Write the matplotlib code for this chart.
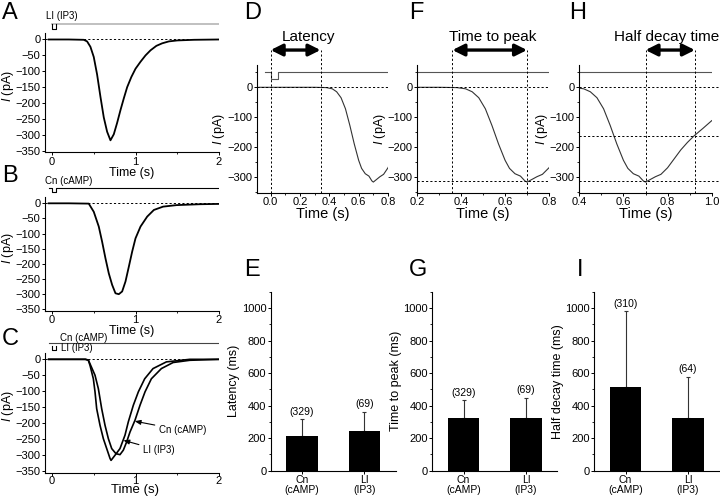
import matplotlib
matplotlib.use("Agg")
import matplotlib.pyplot as plt
from matplotlib.ticker import MultipleLocator

plt.rcParams['font.family'] = ['Liberation Sans', 'DejaVu Sans']
plt.rcParams['mathtext.fontset'] = 'custom'
plt.rcParams['mathtext.rm'] = 'Liberation Sans'
plt.rcParams['mathtext.it'] = 'Liberation Sans:italic'
plt.rcParams['axes.linewidth'] = 0.8

# ---- data ----
# A: LI (IP3) response
a_t = [-0.04, 0.2, 0.38, 0.42, 0.46, 0.50, 0.54, 0.58, 0.62, 0.66, 0.70, 0.74, 0.78, 0.82,
       0.86, 0.90, 0.95, 1.0, 1.06, 1.12, 1.18, 1.25, 1.32, 1.4, 1.5, 1.7, 2.0]
a_i = [0, 0, -1, -6, -23, -55, -110, -180, -245, -290, -317, -298, -262, -222,
       -185, -150, -118, -92, -70, -50, -34, -20, -12, -6, -3, -1, 0]
# B: Cn (cAMP) response
b_t = [-0.04, 0.2, 0.44, 0.50, 0.56, 0.60, 0.64, 0.68, 0.72, 0.76, 0.80, 0.84, 0.88, 0.92,
       0.96, 1.0, 1.06, 1.14, 1.22, 1.33, 1.49, 1.77, 2.0]
b_i = [0, 0, -1, -28, -77, -127, -182, -232, -270, -298, -301, -292, -259, -210,
       -160, -116, -77, -44, -22, -11, -6, -3, -2]
# C: both responses overlaid
c_li_t = [-0.04, 0.2, 0.40, 0.435, 0.455, 0.495, 0.515, 0.535, 0.575, 0.615, 0.655, 0.695,
          0.707, 0.754, 0.814, 0.874, 0.914, 0.974, 1.034, 1.11, 1.21, 1.37, 1.65, 2.0]
c_li_i = [0, 0, 0, -3, -19, -61, -102, -155, -207, -249, -280, -311,
          -317, -301, -280, -238, -196, -144, -102, -61, -29, -8, 0, 0]
c_cn_t = [-0.04, 0.2, 0.40, 0.435, 0.455, 0.515, 0.555, 0.595, 0.635, 0.675, 0.715, 0.766,
          0.814, 0.854, 0.894, 0.934, 0.994, 1.054, 1.114, 1.19, 1.31, 1.45, 1.65, 2.0]
c_cn_i = [0, 0, 0, -2, -14, -50, -92, -155, -207, -249, -280, -296,
          -299, -285, -259, -228, -191, -144, -102, -61, -29, -10, -3, 0]
# D, F, H: example trace used for the measurements
ex_t = [-0.08, 0.0, 0.1, 0.2, 0.3, 0.38, 0.42, 0.45, 0.48, 0.51, 0.54, 0.57, 0.60, 0.62,
        0.645, 0.67, 0.69, 0.70, 0.72, 0.745, 0.77, 0.80, 0.83, 0.86, 0.89, 0.92, 0.96, 1.0]
ex_i = [0, 0, 0, 0, 0, -1, -5, -15, -35, -72, -128, -190, -245, -272,
        -290, -298, -314, -318, -310, -300, -292, -270, -240, -210, -185, -163, -138, -112]
# stimulus timing (s); levels drawn above the traces
stim_t = [-0.04, 0.0, 0.0, 0.05, 0.05, 2.0]
latency_marks = [0.0, 0.34]
peak_marks = [0.36, 0.70]
decay_marks = [0.70, 0.924]
decay_levels = [0, -163, -316]
peak_level = -316

# E, G, I: summary bars
groups = ['Cn\n(cAMP)', 'LI\n(IP3)']
latency_mean = [216, 245]
latency_sd = [100, 117]
latency_n = [329, 69]
peak_mean = [322, 322]
peak_sd = [111, 124]
peak_n = [329, 69]
decay_mean = [513, 322]
decay_sd = [466, 253]
decay_n = [310, 64]

W, H = 720, 497
fig = plt.figure(figsize=(W / 100, H / 100), dpi=100)
DASH = (0, (2.2, 2.2))
ILAB = r'$\mathit{I}$ (pA)'


def px_axes(l, t, r, b):
    return fig.add_axes([l / W, 1 - b / H, (r - l) / W, (b - t) / H])


def style(ax, fs=8):
    ax.spines['top'].set_visible(False)
    ax.spines['right'].set_visible(False)
    ax.tick_params(direction='out', length=2.2, width=0.7, labelsize=fs, pad=1)
    ax.tick_params(which='minor', direction='out', length=1.5, width=0.6)


def stim(base, low):
    return [base, base, low, low, base, base]


def trace_axes(ax, ylo, xfs):
    style(ax)
    ax.set_xlim(-0.084, 2.0)
    ax.set_ylim(ylo, 60)
    ax.spines['left'].set_bounds(ylo, 20)
    ax.set_xticks([0, 1, 2])
    ax.xaxis.set_minor_locator(MultipleLocator(0.5))
    ax.set_yticks(range(-350, 1, 50))
    ax.axhline(0, color='black', lw=0.7, ls=DASH, zorder=1)
    ax.set_xlabel('Time (s)', fontsize=xfs, labelpad=0)
    ax.set_ylabel(ILAB, fontsize=9, labelpad=0)


# ---- A ----
ax = px_axes(45, 20.4, 219, 152.4)
trace_axes(ax, -355, 9)
ax.plot(stim_t[1:], stim(49, 49)[1:], color='#b5b5b5', lw=1.2)
ax.plot(stim_t[1:5], stim(49, 32)[1:5], color='black', lw=0.8)
ax.plot(a_t, a_i, color='black', lw=1.3)
ax.text(-0.07, 74, 'LI (IP3)', fontsize=7, va='center')

# ---- B ----
ax = px_axes(45, 185.2, 219, 310.8)
trace_axes(ax, -356, 9)
ax.plot(stim_t, stim(50, 36), color='black', lw=0.8)
ax.plot(b_t, b_i, color='black', lw=1.3)
ax.text(-0.08, 74, 'Cn (cAMP)', fontsize=7, va='center')

# ---- C ----
c_bottom = 472.5
ax = px_axes(45, c_bottom - 132.3, 219, c_bottom)
trace_axes(ax, -355, 9.5)
ax.tick_params(axis='x', pad=0.5)
ax.xaxis.label.set_va('bottom')
ax.xaxis.set_label_coords(0.52, -(H - c_bottom - 1) / 132.3)
ax.plot(stim_t, stim(52, 52), color='#444444', lw=0.8)
ax.plot(stim_t[1:5], stim(42, 30)[1:5], color='black', lw=0.8)
ax.plot(c_cn_t, c_cn_i, color='black', lw=1.2)
ax.plot(c_li_t, c_li_i, color='black', lw=1.2)
ax.text(0.1, 68, 'Cn (cAMP)', fontsize=7, va='center')
ax.text(0.11, 36, 'LI (IP3)', fontsize=7, va='center')
ax.annotate('Cn (cAMP)', xy=(0.99, -194), xytext=(1.28, -223), fontsize=7, va='center',
            arrowprops=dict(arrowstyle='-|>,head_length=0.5,head_width=0.2', lw=0.8,
                            color='black', shrinkA=1, shrinkB=0))
ax.annotate('LI (IP3)', xy=(0.855, -254), xytext=(1.09, -285), fontsize=7, va='center',
            arrowprops=dict(arrowstyle='-|>,head_length=0.5,head_width=0.2', lw=0.8,
                            color='black', shrinkA=1, shrinkB=0))


# ---- D, F, H ----
def meas_axes(l, r, xlim, step):
    ax = px_axes(l, 64.95, r, 192.8)
    style(ax)
    ax.set_xlim(*xlim)
    ax.set_ylim(-354, 75)
    ax.xaxis.set_major_locator(MultipleLocator(step))
    ax.xaxis.set_minor_locator(MultipleLocator(step / 2))
    ax.xaxis.set_major_formatter(plt.FormatStrFormatter('%.1f'))
    ax.set_yticks([0, -100, -200, -300])
    ax.yaxis.set_minor_locator(MultipleLocator(50))
    ax.set_xlabel('Time (s)', fontsize=10.5, labelpad=0)
    ax.set_ylabel(ILAB, fontsize=9, labelpad=0)
    ax.plot(stim_t, stim(52, 28), color='#555555', lw=0.8)
    ax.plot(ex_t, ex_i, color='#333333', lw=0.8)
    return ax


def meas_marks(ax, marks, title, tx):
    for m in marks:
        ax.plot([m, m], [-354, 125], color='black', lw=0.7, ls=DASH, clip_on=False)
    ax.annotate('', xy=(marks[1], 125), xytext=(marks[0], 125),
                arrowprops=dict(arrowstyle='<|-|>,head_length=0.7,head_width=0.35', lw=2.4,
                                color='black', shrinkA=0, shrinkB=0),
                annotation_clip=False)
    ax.text(tx, 169, title, fontsize=11, ha='center', va='center')


ax = meas_axes(256.7, 388, (-0.095, 0.8), 0.2)
ax.axhline(0, color='black', lw=0.7, ls=DASH)
meas_marks(ax, latency_marks, 'Latency', 0.26)

ax = meas_axes(417.3, 549, (0.2, 0.8), 0.2)
ax.axhline(0, color='black', lw=0.7, ls=DASH)
ax.axhline(peak_level, color='black', lw=0.7, ls=DASH)
meas_marks(ax, peak_marks, 'Time to peak', 0.543)

ax = meas_axes(579.3, 711.7, (0.4, 1.0), 0.2)
for lv in decay_levels:
    ax.plot([0.4, 1.036], [lv, lv], color='black', lw=0.7, ls=DASH, clip_on=False)
meas_marks(ax, decay_marks, 'Half decay time', 0.796)


# ---- E, G, I ----
def bar_panel(l, means, sds, ns, ylabel):
    ax = px_axes(l, 291.7, l + 125, 470.7)
    style(ax)
    x = [1, 2]
    ax.bar(x, means, width=0.5, color='black', zorder=2)
    ax.errorbar(x, means, yerr=[[0, 0], sds], fmt='none', ecolor='#333333',
                elinewidth=0.8, capsize=1.5, capthick=0.8, zorder=1)
    for xi, m, s, n in zip(x, means, sds, ns):
        ax.text(xi, m + s + 47, f'({n})', ha='center', va='center', fontsize=7.5)
    ax.set_xlim(0.5, 2.5)
    ax.set_ylim(0, 1100)
    ax.set_xticks(x)
    ax.set_xticklabels(groups, fontsize=7.5, linespacing=1.0)
    ax.set_yticks(range(0, 1001, 200))
    ax.yaxis.set_minor_locator(MultipleLocator(100))
    ax.set_ylabel(ylabel, fontsize=9, labelpad=1)
    return ax


bar_panel(270.7, latency_mean, latency_sd, latency_n, 'Latency (ms)')
bar_panel(432.3, peak_mean, peak_sd, peak_n, 'Time to peak (ms)')
bar_panel(594.3, decay_mean, decay_sd, decay_n, 'Half decay time (ms)')

# panel letters
for letter, lx, ly in [('A', 2, 2), ('B', 2, 165), ('C', 2, 328), ('D', 244, 2),
                       ('F', 409, 2), ('H', 569, 2), ('E', 244, 259), ('G', 409, 259),
                       ('I', 577, 259)]:
    fig.text(lx / W, 1 - ly / H, letter, fontsize=17, va='top', ha='left')

fig.savefig('out.png', dpi=100)
